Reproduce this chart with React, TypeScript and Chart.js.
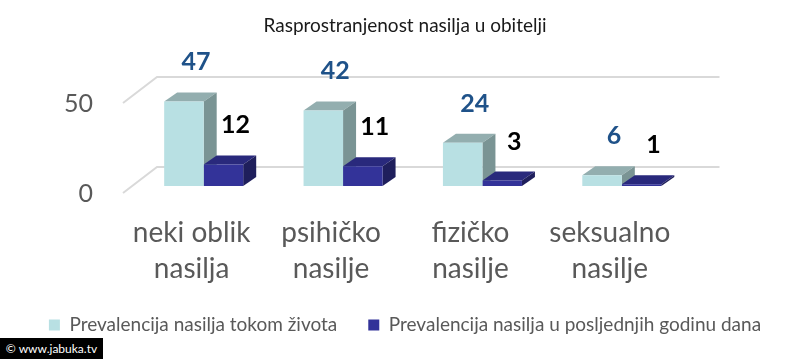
import React, { useEffect, useRef } from "react";
import { Chart, registerables } from "chart.js";

Chart.register(...registerables);

const titleText = "Rasprostranjenost nasilja u obitelji";
const categories = [
  ["neki oblik", "nasilja"],
  ["psihičko", "nasilje"],
  ["fizičko", "nasilje"],
  ["seksualno", "nasilje"],
];
const seriesNames = [
  "Prevalencija nasilja tokom života",
  "Prevalencija nasilja u posljednjih godinu dana",
];
const lifetimeValues = [47, 42, 24, 6];
const lastYearValues = [12, 11, 3, 1];
const yTicks = [0, 50];

const frontColors = ["#B8E0E3", "#333399"];
const topColors = ["#93AEAF", "#29297C"];
const sideColors = ["#7A9494", "#1F1F5C"];
const labelColors = ["#1F5289", "#000000"];

const DX = 13;
const DY = 9;

const threeDPlugin = {
  id: "threeD",
  beforeDatasetsDraw(chart: any) {
    const ctx = chart.ctx;
    const { left, right } = chart.chartArea;
    const ys = chart.scales.y;
    ctx.save();
    ctx.strokeStyle = "#D9D9D9";
    ctx.lineWidth = 2;
    yTicks.forEach((v) => {
      const p = ys.getPixelForValue(v);
      ctx.beginPath();
      ctx.moveTo(left - 11, p + 7);
      ctx.lineTo(left + 23, p - 19);
      ctx.lineTo(right + 28, p - 19);
      ctx.stroke();
    });
    const metas = [chart.getDatasetMeta(0), chart.getDatasetMeta(1)];
    for (let i = 0; i < categories.length; i++) {
      metas.forEach((meta, d) => {
        const el = meta.data[i];
        if (!el) return;
        const { x, y, base, width } = el.getProps(["x", "y", "base", "width"], true);
        const l = x - width / 2;
        const r = x + width / 2;
        ctx.fillStyle = topColors[d];
        ctx.beginPath();
        ctx.moveTo(l, y);
        ctx.lineTo(l + DX, y - DY);
        ctx.lineTo(r + DX, y - DY);
        ctx.lineTo(r, y);
        ctx.closePath();
        ctx.fill();
        ctx.fillStyle = sideColors[d];
        ctx.beginPath();
        ctx.moveTo(r, y);
        ctx.lineTo(r + DX, y - DY);
        ctx.lineTo(r + DX, base - DY);
        ctx.lineTo(r, base);
        ctx.closePath();
        ctx.fill();
      });
    }
    ctx.restore();
  },
  afterDatasetsDraw(chart: any) {
    const ctx = chart.ctx;
    ctx.save();
    ctx.font = "bold 25px Lato";
    ctx.textAlign = "center";
    ctx.textBaseline = "middle";
    [0, 1].forEach((d) => {
      const meta = chart.getDatasetMeta(d);
      const values = chart.data.datasets[d].data;
      meta.data.forEach((el: any, i: number) => {
        const { x, y } = el.getProps(["x", "y"], true);
        ctx.fillStyle = labelColors[d];
        ctx.fillText(String(values[i]), x + 12, y - 39);
      });
    });
    ctx.restore();
  },
};

export default function App() {
  const canvasRef = useRef<HTMLCanvasElement | null>(null);

  useEffect(() => {
    if (!canvasRef.current) return;
    const chart = new Chart(canvasRef.current, {
      type: "bar",
      data: {
        labels: categories,
        datasets: [
          {
            label: seriesNames[0],
            data: lifetimeValues,
            backgroundColor: frontColors[0],
            borderWidth: 0,
            categoryPercentage: 0.567,
            barPercentage: 1,
          },
          {
            label: seriesNames[1],
            data: lastYearValues,
            backgroundColor: frontColors[1],
            borderWidth: 0,
            categoryPercentage: 0.567,
            barPercentage: 1,
          },
        ],
      },
      options: {
        animation: false,
        responsive: false,
        maintainAspectRatio: false,
        layout: { padding: { top: 0, bottom: 14.5, left: 0, right: 0 } },
        plugins: {
          title: {
            display: true,
            text: titleText,
            color: "#1A1A1A",
            font: { family: "Lato", size: 19, weight: "normal" },
            padding: { top: 14, bottom: 59.2 },
          },
          legend: {
            position: "bottom",
            labels: {
              boxWidth: 11,
              boxHeight: 11,
              padding: 31,
              color: "#595959",
              font: { family: "Lato", size: 19 },
            },
          },
          tooltip: { enabled: false },
        },
        scales: {
          x: {
            grid: { display: false, drawTicks: false },
            border: { display: false },
            ticks: {
              color: "#595959",
              font: { family: "Lato", size: 28, lineHeight: 1.32 },
              padding: 28,
              labelOffset: -12,
              maxRotation: 0,
              autoSkip: false,
            },
            afterFit(s: any) {
              s.height = 98.5;
            },
          },
          y: {
            min: 0,
            max: 50,
            ticks: {
              stepSize: 50,
              color: "#595959",
              font: { family: "Lato", size: 25 },
              padding: 41,
              labelOffset: 8,
            },
            grid: { display: false, drawTicks: false },
            border: { display: false },
            afterFit(s: any) {
              s.width = 134;
            },
          },
          yRight: {
            position: "right",
            display: true,
            grid: { display: false, drawTicks: false },
            border: { display: false },
            ticks: { display: false },
            afterFit(s: any) {
              s.width = 118.5;
            },
          },
        },
      } as any,
      plugins: [threeDPlugin],
    });
    return () => chart.destroy();
  }, []);

  return (
    <div style={{ position: "fixed", left: 0, top: 0, width: 810, height: 359, background: "#fff" }}>
      <canvas ref={canvasRef} width={810} height={359} />
      <div
        style={{
          position: "absolute",
          left: 0,
          top: 338,
          width: 103,
          height: 21,
          background: "#000",
          color: "#fff",
          font: "12px Lato",
          lineHeight: "21px",
          textAlign: "center",
        }}
      >
        © www.jabuka.tv
      </div>
    </div>
  );
}
